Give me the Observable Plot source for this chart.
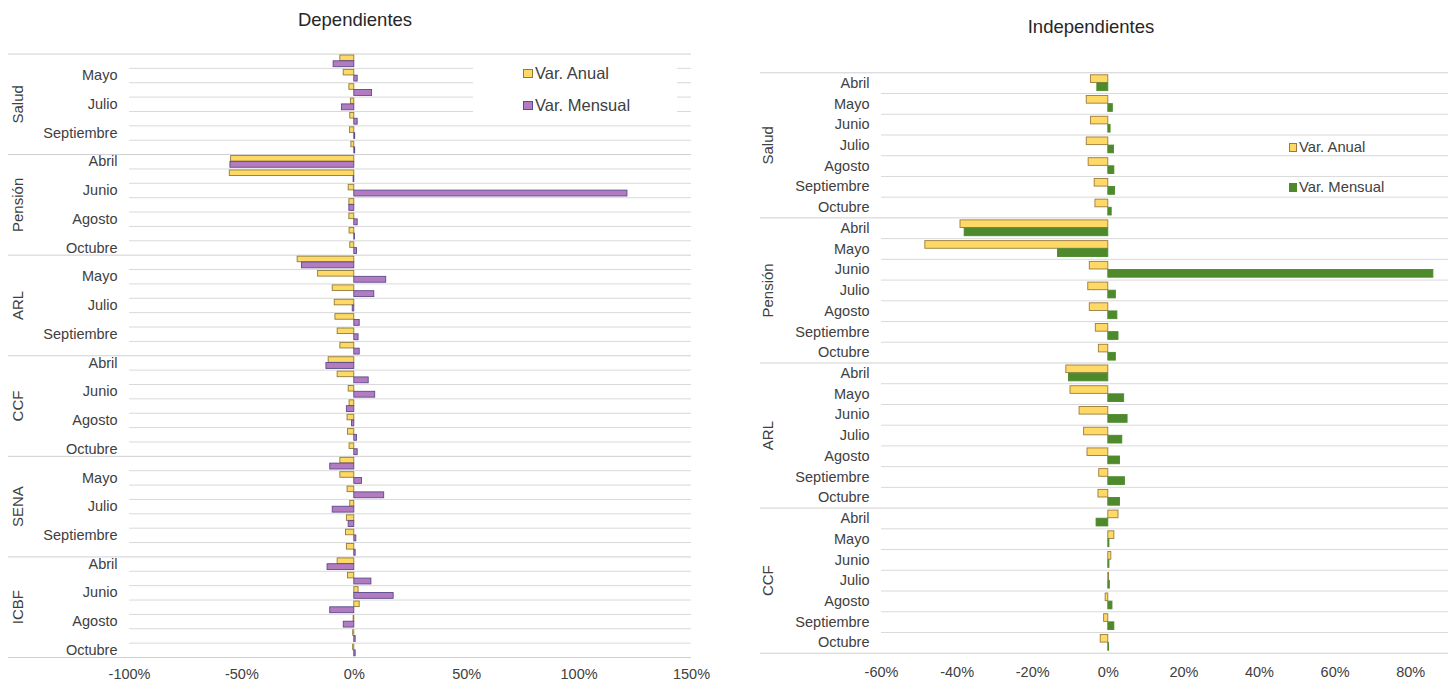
<!DOCTYPE html>
<html>
<head>
<meta charset="utf-8">
<script src="https://cdn.jsdelivr.net/npm/d3@7"></script>
<script src="https://cdn.jsdelivr.net/npm/@observablehq/plot@0.6"></script>
<style>
  html, body { margin: 0; padding: 0; background: #fff; }
  #root { position: relative; width: 1454px; height: 682px; overflow: hidden; font-family: "Liberation Sans", Arial, sans-serif; color: #404040; }
  .panel { position: absolute; top: 0; }
  .title { position: absolute; font-size: 18.5px; color: #262626; transform: translate(-50%, -50%); white-space: nowrap; }
  .leg { position: absolute; white-space: nowrap; color: #404040; }
  .sw { position: absolute; box-sizing: border-box; }
</style>
</head>
<body>
<div id="root"></div>
<script>
// ---------- data ----------
const months = ["Abril", "Mayo", "Junio", "Julio", "Agosto", "Septiembre", "Octubre"];

// Dependientes
const depGroups = ["Salud", "Pensión", "ARL", "CCF", "SENA", "ICBF"];
const depAnual = [
  -0.062, -0.047, -0.022, -0.015, -0.018, -0.019, -0.013,   // Salud
  -0.548, -0.554, -0.025, -0.022, -0.022, -0.021, -0.018,   // Pensión
  -0.252, -0.161, -0.096, -0.087, -0.084, -0.074, -0.062,   // ARL
  -0.114, -0.074, -0.025, -0.021, -0.030, -0.028, -0.021,   // CCF
  -0.062, -0.062, -0.030, -0.018, -0.033, -0.037, -0.033,   // SENA
  -0.074, -0.028,  0.019,  0.024, -0.003, -0.005, -0.005    // ICBF
];
const depMensual = [
  -0.092,  0.015,  0.079, -0.055,  0.015,  0.004,  0.004,
  -0.551, -0.003,  1.215, -0.022,  0.015,  0.003,  0.012,
  -0.233,  0.142,  0.089, -0.007,  0.024,  0.019,  0.024,
  -0.124,  0.064,  0.093, -0.033, -0.010,  0.012,  0.015,
  -0.107,  0.034,  0.133, -0.096, -0.025,  0.009,  0.006,
  -0.119,  0.076,  0.175, -0.107, -0.047,  0.006,  0.006
];
const depTicks = [-1, -0.5, 0, 0.5, 1, 1.5];

// Independientes
const indGroups = ["Salud", "Pensión", "ARL", "CCF"];
const indAnual = [
  -0.046, -0.057, -0.046, -0.057, -0.052, -0.036, -0.034,   // Salud
  -0.391, -0.484, -0.049, -0.053, -0.049, -0.033, -0.025,   // Pensión
  -0.111, -0.100, -0.076, -0.064, -0.055, -0.024, -0.026,   // ARL
   0.027,  0.016,  0.008,  0.002, -0.007, -0.011, -0.020    // CCF
];
const indMensual = [
  -0.029,  0.012,  0.006,  0.015,  0.016,  0.018,  0.009,
  -0.380, -0.133,  0.860,  0.020,  0.024,  0.027,  0.020,
  -0.104,  0.042,  0.051,  0.037,  0.031,  0.044,  0.031,
  -0.031,  0.003,  0.003,  0.004,  0.011,  0.016,  0.002
];
const indTicks = [-0.6, -0.4, -0.2, 0, 0.2, 0.4, 0.6, 0.8];

const seriesNames = ["Var. Anual", "Var. Mensual"];

// ---------- drawing ----------
const root = document.getElementById("root");
const pct = d => Math.round(d * 100) + "%";

function panel(o) {
  const rows = o.groups.flatMap(g => months.map(m => ({group: g, month: m, key: g + "|" + m})));
  const keys = rows.map(r => r.key);
  const n = keys.length;
  const bw = (o.height - o.marginTop - o.marginBottom) / n;
  const dataA = rows.map((r, i) => ({...r, v: o.anual[i]}));
  const dataM = rows.map((r, i) => ({...r, v: o.mensual[i]}));
  const groupStarts = o.groups.map(g => g + "|" + months[0]);
  const innerKeys = keys.filter(k => !groupStarts.includes(k));
  const midKeys = o.groups.map(g => g + "|" + months[3]);
  const lastKey = keys[n - 1];

  const chart = Plot.plot({
    width: o.width,
    height: o.height,
    marginTop: o.marginTop,
    marginBottom: o.marginBottom,
    marginLeft: o.marginLeft,
    marginRight: o.marginRight,
    style: {fontFamily: "'Liberation Sans', Arial, sans-serif", fontSize: "14.5px", color: "#404040", background: "transparent", overflow: "visible"},
    x: {domain: o.xDomain, ticks: o.xTicks, tickFormat: pct, tickSize: 0, tickPadding: o.xPad, label: null},
    y: {domain: keys, padding: 0, round: false, tickSize: 0, tickPadding: 12, label: null,
        tickFormat: k => (o.every === 2 && keys.indexOf(k) % 2 === 0) ? "" : k.split("|")[1]},
    marks: [
      Plot.ruleY(innerKeys, {y: d => d, dy: -bw / 2, stroke: "#d9d9d9", strokeWidth: 1}),
      Plot.ruleY(groupStarts, {y: d => d, dy: -bw / 2, stroke: "#d0d0d0", strokeWidth: 1, insetLeft: o.groupInset}),
      Plot.ruleY([lastKey], {y: d => d, dy: bw / 2, stroke: "#d0d0d0", strokeWidth: 1, insetLeft: o.groupInset}),
      Plot.barX(dataA, {y: "key", x: "v", fill: o.colA, stroke: o.strokeA, strokeWidth: 0.9, insetTop: o.aTop, insetBottom: o.aBottom}),
      Plot.barX(dataM, {y: "key", x: "v", fill: o.colM, stroke: o.strokeM, strokeWidth: 0.9, insetTop: o.mTop, insetBottom: o.mBottom}),
      Plot.text(midKeys, {y: d => d, text: d => d.split("|")[0], frameAnchor: "left", textAnchor: "middle", lineAnchor: "middle", dx: o.groupDx, rotate: -90, fontSize: 15, fill: "#404040"})
    ]
  });
  const wrap = document.createElement("div");
  wrap.className = "panel";
  wrap.style.left = o.left + "px";
  wrap.appendChild(chart);
  root.appendChild(wrap);
}

panel({
  groups: depGroups, anual: depAnual, mensual: depMensual, xDomain: [-1, 1.5], xTicks: depTicks,
  left: 0, width: 720, height: 682, marginTop: 53.5, marginBottom: 25, marginLeft: 129, marginRight: 29,
  xPad: 11, every: 2, groupInset: -121, groupDx: -111,
  colA: "#FFD966", strokeA: "#8E7C3A", colM: "#B47CC0", strokeM: "#5B4A8C",
  aTop: 1.5, aBottom: 7.3, mTop: 7.3, mBottom: 1.2
});

panel({
  groups: indGroups, anual: indAnual, mensual: indMensual, xDomain: [-0.6, 0.9], xTicks: indTicks,
  left: 720, width: 734, height: 682, marginTop: 72.3, marginBottom: 29.3, marginLeft: 161, marginRight: 6,
  xPad: 14, every: 1, groupInset: -121, groupDx: -113,
  colA: "#FFD966", strokeA: "#9A7B3E", colM: "#4E8A2C", strokeM: "#4E8A2C",
  aTop: 2.5, aBottom: 10.6, mTop: 10.6, mBottom: 2.4
});

// titles
function addTitle(text, x, y) {
  const t = document.createElement("div");
  t.className = "title";
  t.textContent = text;
  t.style.left = x + "px";
  t.style.top = y + "px";
  root.appendChild(t);
}
addTitle("Dependientes", 355, 20);
addTitle("Independientes", 1091, 27);

// legends
function addLegend(items, box) {
  if (box) {
    const b = document.createElement("div");
    b.style.cssText = `position:absolute;left:${box.x}px;top:${box.y}px;width:${box.w}px;height:${box.h}px;background:#fff;`;
    root.appendChild(b);
  }
  items.forEach(it => {
    const s = document.createElement("div");
    s.className = "sw";
    s.style.cssText += `left:${it.sx}px;top:${it.cy - it.sh / 2}px;width:${it.sw}px;height:${it.sh}px;background:${it.fill};border:1px solid ${it.stroke};`;
    root.appendChild(s);
    const l = document.createElement("div");
    l.className = "leg";
    l.textContent = it.label;
    l.style.cssText += `left:${it.tx}px;top:${it.cy}px;font-size:${it.fs}px;transform:translateY(-50%);line-height:1;`;
    root.appendChild(l);
  });
}
addLegend([
  {label: seriesNames[0], sx: 523, sw: 10, sh: 9, cy: 73, tx: 535, fill: "#FFD966", stroke: "#8E7C3A", fs: 16.5},
  {label: seriesNames[1], sx: 523, sw: 10, sh: 9, cy: 105, tx: 535, fill: "#B47CC0", stroke: "#5B4A8C", fs: 16.5}
], {x: 473, y: 56, w: 204, h: 64});
addLegend([
  {label: seriesNames[0], sx: 1289, sw: 8, sh: 9, cy: 147, tx: 1299, fill: "#FFD966", stroke: "#9A7B3E", fs: 14.8},
  {label: seriesNames[1], sx: 1289, sw: 8, sh: 9, cy: 187, tx: 1299, fill: "#4E8A2C", stroke: "#4E8A2C", fs: 14.8}
]);
</script>
</body>
</html>
